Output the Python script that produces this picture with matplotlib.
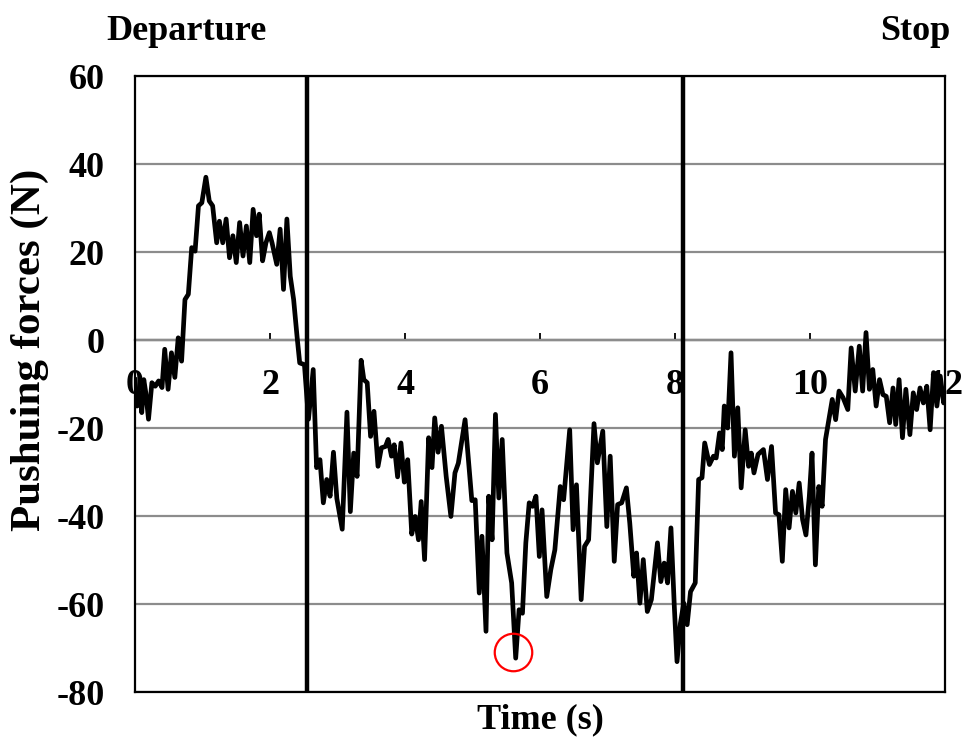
import matplotlib
matplotlib.use("Agg")
import matplotlib.pyplot as plt
import numpy as np

plt.rcParams['font.family'] = ['Liberation Serif', 'DejaVu Serif']
plt.rcParams['font.weight'] = 'bold'
plt.rcParams['axes.unicode_minus'] = False

# pushing force record (time in s, force in N)
time = [0.00, 0.03, 0.07, 0.10, 0.13, 0.16, 0.20, 0.25, 0.30, 0.35, 0.40, 0.44, 0.49, 0.54, 0.59,
        0.64, 0.69, 0.74, 0.79, 0.84, 0.89, 0.94, 0.99, 1.05, 1.10, 1.15, 1.21, 1.25, 1.30, 1.35,
        1.40, 1.45, 1.50, 1.55, 1.60, 1.65, 1.70, 1.75, 1.80, 1.84, 1.89, 1.94, 1.99, 2.03, 2.10,
        2.15, 2.20, 2.25, 2.30, 2.35, 2.40, 2.44, 2.51, 2.57, 2.64, 2.69, 2.74, 2.79, 2.84, 2.89,
        2.94, 2.99, 3.07, 3.14, 3.19, 3.24, 3.29, 3.35, 3.39, 3.44, 3.49, 3.54, 3.60, 3.65, 3.71,
        3.75, 3.80, 3.84, 3.89, 3.94, 3.99, 4.04, 4.10, 4.15, 4.20, 4.24, 4.29, 4.35, 4.40, 4.44,
        4.49, 4.54, 4.61, 4.68, 4.74, 4.79, 4.89, 4.99, 5.04, 5.10, 5.14, 5.20, 5.24, 5.29, 5.34,
        5.39, 5.44, 5.51, 5.58, 5.64, 5.69, 5.74, 5.79, 5.84, 5.89, 5.94, 5.99, 6.03, 6.10, 6.16,
        6.22, 6.30, 6.35, 6.44, 6.49, 6.54, 6.61, 6.66, 6.72, 6.80, 6.85, 6.93, 6.99, 7.04, 7.10,
        7.15, 7.21, 7.28, 7.33, 7.39, 7.43, 7.48, 7.53, 7.59, 7.65, 7.74, 7.79, 7.84, 7.89, 7.94,
        7.99, 8.03, 8.08, 8.13, 8.18, 8.23, 8.30, 8.35, 8.40, 8.44, 8.51, 8.57, 8.61, 8.66, 8.70,
        8.73, 8.78, 8.83, 8.88, 8.93, 8.98, 9.04, 9.09, 9.13, 9.17, 9.23, 9.31, 9.37, 9.43, 9.49,
        9.54, 9.59, 9.64, 9.69, 9.74, 9.79, 9.84, 9.89, 9.94, 9.99, 10.03, 10.08, 10.13, 10.18, 10.23,
        10.28, 10.33, 10.38, 10.43, 10.49, 10.56, 10.61, 10.67, 10.73, 10.78, 10.83, 10.88, 10.93, 10.98, 11.03,
        11.08, 11.13, 11.18, 11.23, 11.27, 11.32, 11.37, 11.42, 11.48, 11.53, 11.58, 11.63, 11.68, 11.73, 11.78,
        11.83, 11.88, 11.93, 11.98, 12.00]
force = [-9.0, -15.0, -12.0, -16.5, -9.0, -12.0, -18.0, -9.7, -10.5, -9.3, -10.8, -2.1, -11.2, -2.9, -8.5,
         0.5, -4.8, 9.2, 10.4, 21.0, 20.2, 30.5, 31.2, 37.0, 31.6, 30.5, 22.1, 27.0, 22.1, 27.5,
         18.7, 23.7, 17.6, 26.7, 19.1, 25.9, 17.6, 29.7, 23.7, 28.6, 18.0, 22.1, 24.4, 22.1, 17.2,
         25.2, 11.5, 27.5, 14.5, 9.2, 0.9, -5.2, -5.6, -18.0, -6.7, -29.0, -27.2, -37.0, -31.7, -35.5,
         -25.5, -36.0, -43.0, -16.4, -39.0, -25.7, -31.0, -4.6, -9.0, -9.7, -21.9, -16.2, -28.7, -24.5, -24.2,
         -22.6, -26.4, -23.8, -31.1, -23.4, -32.3, -27.2, -44.1, -40.1, -45.4, -36.7, -49.9, -22.2, -29.0, -17.7,
         -25.5, -19.6, -31.0, -40.1, -30.2, -28.0, -18.1, -36.5, -36.3, -57.5, -44.6, -66.2, -35.5, -45.4, -16.9,
         -35.9, -22.6, -48.4, -55.2, -72.3, -61.3, -62.1, -46.1, -37.0, -37.8, -35.5, -49.2, -38.6, -58.3, -52.2,
         -47.7, -33.3, -36.3, -20.4, -43.1, -32.9, -59.0, -46.9, -45.4, -19.0, -27.9, -20.7, -42.4, -26.4, -50.3,
         -37.4, -37.0, -33.6, -41.6, -53.7, -48.4, -59.8, -49.9, -61.7, -59.0, -46.1, -54.9, -50.7, -55.2, -42.7,
         -60.6, -73.1, -64.4, -59.8, -64.7, -57.2, -55.2, -31.7, -31.3, -23.4, -28.3, -26.4, -26.8, -21.1, -24.9,
         -15.0, -20.0, -2.9, -26.4, -15.4, -33.6, -20.4, -28.7, -25.7, -30.2, -26.0, -24.9, -31.7, -24.2, -39.3,
         -39.7, -50.3, -34.0, -42.7, -34.4, -39.3, -32.5, -40.8, -44.3, -35.5, -25.7, -51.1, -33.3, -37.8, -22.6,
         -18.0, -13.5, -18.1, -11.6, -13.1, -15.8, -1.8, -11.6, -1.4, -11.6, 1.7, -11.2, -6.7, -15.0, -9.0,
         -12.4, -12.8, -18.8, -10.9, -19.2, -9.0, -22.2, -11.2, -21.5, -12.0, -15.8, -10.9, -14.3, -10.5, -20.4,
         -7.4, -15.0, -8.2, -14.3, -12.0]

phase_marks = [2.55, 8.12]          # departure / stop boundaries
peak_time, peak_force = 5.60, -71.0  # highlighted minimum

fig = plt.figure(figsize=(9.63, 7.41), dpi=100)
ax = fig.add_axes([0.1402, 0.0661, 0.8411, 0.8313])

ax.set_xlim(0, 12)
ax.set_ylim(-80, 60)
ax.set_yticks(np.arange(-80, 61, 20))
ax.grid(axis='y', color='#8c8c8c', linewidth=1.6, zorder=0)
ax.set_xticks([])
ax.tick_params(axis='y', length=0, pad=22, labelsize=26)
for s in ax.spines.values():
    s.set_linewidth(1.6)

for t in phase_marks:
    ax.axvline(t, color='black', linewidth=3.2, zorder=3)

# x axis drawn through zero force
zero_y = (0 - (-80)) / 140.0
sec = ax.secondary_xaxis(zero_y)
sec.set_alignment('bottom')
sec.set_xticks(np.arange(0, 13, 2))
sec.tick_params(direction='in', length=5, width=1.3, pad=21, labelsize=26)
sec.spines['bottom'].set_linewidth(1.6)

ax.plot(time, force, color='black', linewidth=3.4, zorder=4)
ax.plot(peak_time, peak_force, 'o', markersize=27, markerfacecolor='none',
        markeredgecolor='red', markeredgewidth=1.6, zorder=5)

fig.text(0.194, 0.958, 'Departure', ha='center', va='center', fontsize=26)
fig.text(0.950, 0.958, 'Stop', ha='center', va='center', fontsize=26)
fig.text(0.561, 0.028, 'Time (s)', ha='center', va='center', fontsize=26)
fig.text(0.031, 0.528, 'Pushuing forces (N)', ha='center', va='center',
         rotation=90, fontsize=31)

fig.savefig('out.png', dpi=100)
